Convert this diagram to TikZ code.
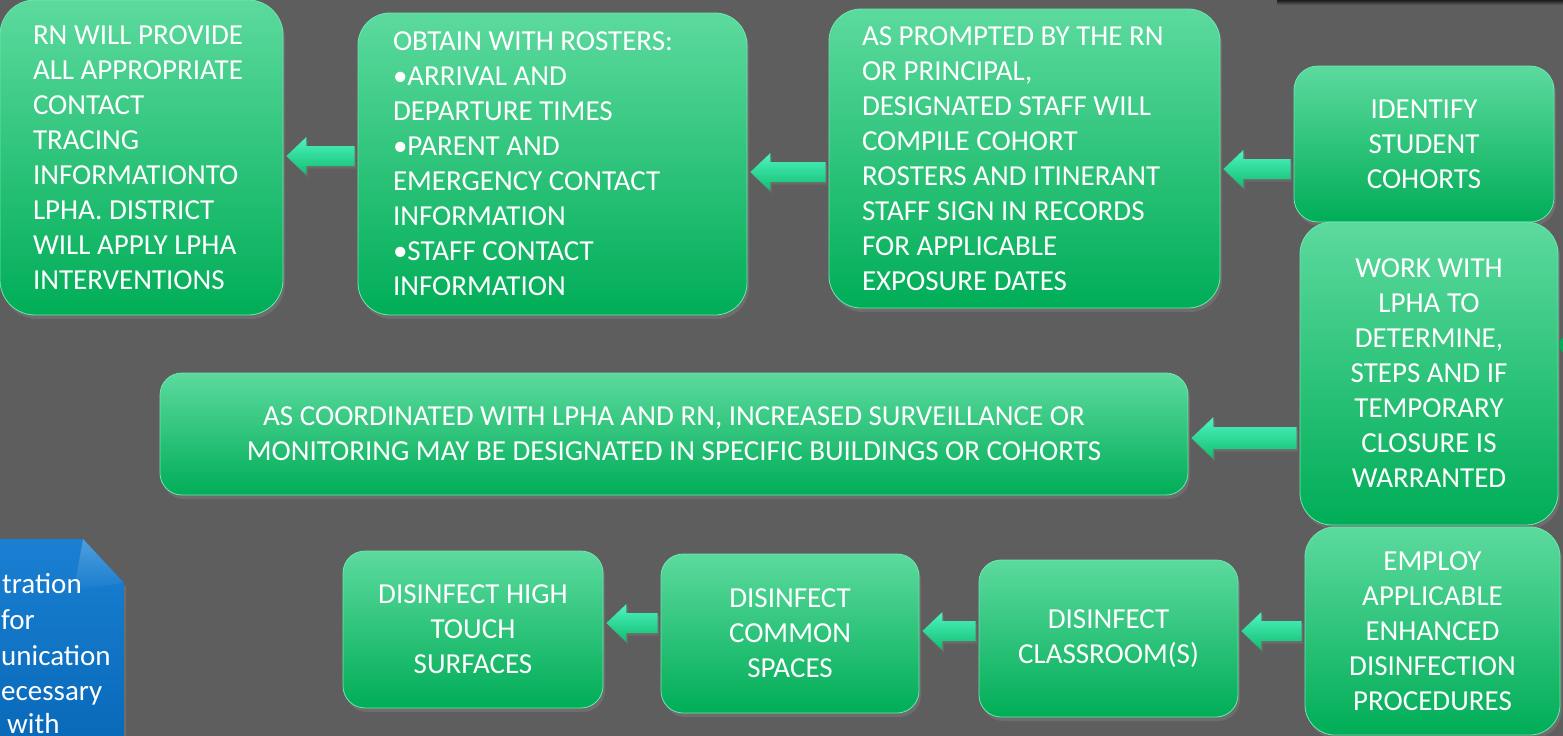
\documentclass[tikz,border=0pt]{standalone}
\usepackage{fontspec}
\setmainfont{Carlito}
\usetikzlibrary{calc,shadows}
\definecolor{slate}{HTML}{5E5E5E}
\definecolor{mint}{HTML}{5CDA9E}
\definecolor{leaf}{HTML}{00AD57}
\definecolor{rim}{HTML}{6FE6B0}
\definecolor{aqua}{HTML}{4FF4C2}
\definecolor{jade}{HTML}{10BE6E}
\definecolor{cobalt}{HTML}{0868B8}
\definecolor{sky}{HTML}{1A80D2}

% block arrow pointing left from box #2 to box #3 at height #4, #1 = size
\newcommand{\flowarrow}[4][1]{%
  \shade[arrowfill]
    ($(#3.east |- 0,#4)+(3,0)$) -- ++({20*#1},{-19*#1}) -- ++(0,{9*#1})
    -- ($(#2.west |- 0,#4)+(-3,{-10*#1})$) -- ++(0,{20*#1})
    -- ($(#3.east |- 0,#4)+({3+20*#1},{10*#1})$) -- ++(0,{9*#1}) -- cycle;
}

\begin{document}
\begin{tikzpicture}[
  x=1pt, y=-1pt,
  font=\fontsize{29}{35}\selectfont\color{white},
  card/.style={inner sep=0pt, rounded corners=#1, top color=mint, bottom color=leaf,
    draw=rim, line width=0.8pt,
    drop shadow={opacity=0.45, shadow xshift=2pt, shadow yshift=-4pt}},
  card/.default=24pt,
  arrowfill/.style={top color=aqua, bottom color=jade,
    drop shadow={opacity=0.4, shadow xshift=1.5pt, shadow yshift=-2.5pt}},
]
\useasboundingbox (0,0) rectangle (1563,736);
\fill[slate] (0,0) rectangle (1563,736);
% shadow of the strip above the frame
\shade[top color=black!70!slate, bottom color=slate] (1277,0) rectangle (1563,5);

% ---- Top row: rosters and contact tracing ---------------------------------
\node[card=35pt, minimum width=283pt, minimum height=315pt, text width=217pt,
      align=flush left] (provide) at (141.5,157.5) {%
  RN WILL PROVIDE\\ALL APPROPRIATE\\CONTACT\\TRACING\\INFORMATIONTO\\
  LPHA. DISTRICT\\WILL APPLY LPHA\\INTERVENTIONS};
\node[card=32pt, minimum width=389pt, minimum height=302pt, text width=319pt,
      align=flush left] (rosters) at (552.5,164) {%
  OBTAIN WITH ROSTERS:\\\textbullet ARRIVAL AND\\DEPARTURE TIMES\\
  \textbullet PARENT AND\\EMERGENCY CONTACT\\INFORMATION\\
  \textbullet STAFF CONTACT\\INFORMATION};
\node[card=32pt, minimum width=391pt, minimum height=299pt, text width=325pt,
      align=flush left] (compile) at (1024.5,158.5) {%
  AS PROMPTED BY THE RN\\OR PRINCIPAL,\\DESIGNATED STAFF WILL\\COMPILE COHORT\\
  ROSTERS AND ITINERANT\\STAFF SIGN IN RECORDS\\FOR APPLICABLE\\EXPOSURE DATES};
\node[card=24pt, minimum width=260pt, minimum height=156pt, align=center]
  (identify) at (1424,144) {IDENTIFY\\STUDENT\\COHORTS};

% ---- Right column ---------------------------------------------------------
\node[card=32pt, minimum width=258pt, minimum height=303pt, align=center]
  (lpha) at (1429,373.5) {WORK WITH\\LPHA TO\\DETERMINE,\\STEPS AND IF\\
  TEMPORARY\\CLOSURE IS\\WARRANTED};
\node[card=30pt, minimum width=255pt, minimum height=208pt, align=center]
  (employ) at (1432.5,631) {EMPLOY\\APPLICABLE\\ENHANCED\\DISINFECTION\\
  PROCEDURES};
% edge of a shape beyond the right border
\fill[leaf] (1568,345) circle (9);

% ---- Middle: surveillance -------------------------------------------------
\node[card=22pt, minimum width=1028pt, minimum height=122pt, align=center]
  (monitor) at (674,434) {%
  AS COORDINATED WITH LPHA AND RN, INCREASED SURVEILLANCE OR\\
  MONITORING MAY BE DESIGNATED IN SPECIFIC BUILDINGS OR COHORTS};

% ---- Bottom row: disinfection ---------------------------------------------
\node[card=22pt, minimum width=259pt, minimum height=157pt, align=center]
  (classroom) at (1108.5,638.5) {DISINFECT\\CLASSROOM(S)};
\node[card=22pt, minimum width=258pt, minimum height=159pt, align=center]
  (common) at (790,633.5) {DISINFECT\\COMMON\\SPACES};
\node[card=22pt, minimum width=260pt, minimum height=157pt, align=center]
  (touch) at (473,629.5) {DISINFECT HIGH\\TOUCH\\SURFACES};

% snipped blue note, cut by the left border
\shade[top color=sky, bottom color=cobalt,
       drop shadow={opacity=0.45, shadow xshift=2pt, shadow yshift=-4pt}]
  (-10,539) -- (83,539) -- (124,583) -- (124,750) -- (-10,750) -- cycle;
\shade[top color=sky!60!white, bottom color=sky, opacity=0.6]
  (83,539) -- (124,583) -- (74,590) -- cycle;
\node[anchor=base west, inner sep=0pt] (note1) at (2,593) {tration};
\node[anchor=base west, inner sep=0pt] (note2) at (1,629) {for};
\node[anchor=base west, inner sep=0pt] (note3) at (1,665) {unication};
\node[anchor=base west, inner sep=0pt] (note4) at (1,700) {ecessary};
\node[anchor=base west, inner sep=0pt] (note5) at (7,733) {with};

% ---- Connectors -----------------------------------------------------------
\flowarrow{rosters}{provide}{156}
\flowarrow{compile}{rosters}{172}
\flowarrow{identify}{compile}{169}
\flowarrow[1.1]{lpha}{monitor}{438}
\flowarrow{employ}{classroom}{631}
\flowarrow{classroom}{common}{631}
\flowarrow{common}{touch}{623}

\end{tikzpicture}
\end{document}
